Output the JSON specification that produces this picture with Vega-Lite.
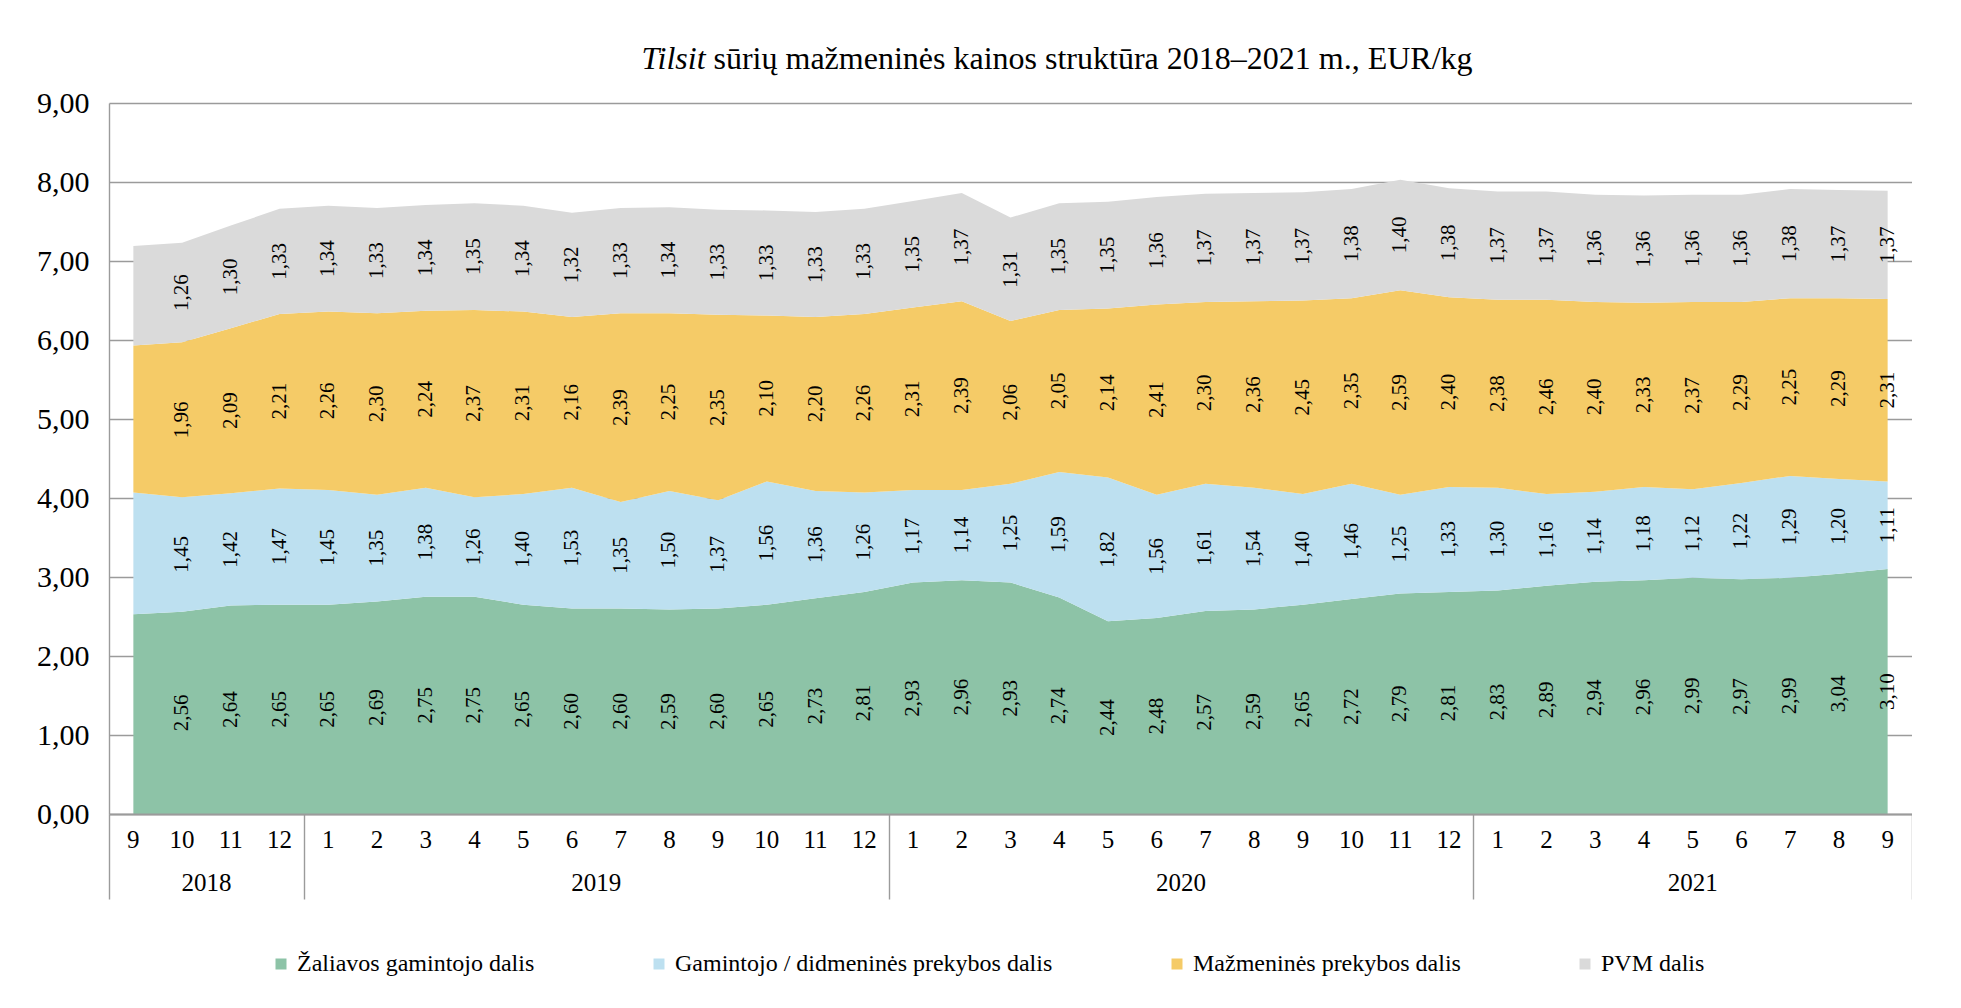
{
  "$schema": "https://vega.github.io/schema/vega-lite/v6.json",
  "padding": {"left": 36, "top": 43, "right": 0, "bottom": 0},
  "background": "white",
  "bounds": "flush",
  "title": {
    "text": "sūrių mažmeninės kainos struktūra 2018–2021 m., EUR/kg",
    "anchor": "start",
    "dx": 677,
    "dy": 33,
    "font": "Liberation Serif",
    "fontSize": 32,
    "fontWeight": "normal",
    "color": "black",
    "offset": 0
  },
  "datasets": {
    "rows": [
      {"yr": "2018", "mo": 9, "i": 0, "g": 2.53, "b": 1.54, "r": 1.86, "p": 1.26},
      {"yr": "2018", "mo": 10, "i": 1, "g": 2.56, "b": 1.45, "r": 1.96, "p": 1.26},
      {"yr": "2018", "mo": 11, "i": 2, "g": 2.64, "b": 1.42, "r": 2.09, "p": 1.30},
      {"yr": "2018", "mo": 12, "i": 3, "g": 2.65, "b": 1.47, "r": 2.21, "p": 1.33},
      {"yr": "2019", "mo": 1, "i": 4, "g": 2.65, "b": 1.45, "r": 2.26, "p": 1.34},
      {"yr": "2019", "mo": 2, "i": 5, "g": 2.69, "b": 1.35, "r": 2.30, "p": 1.33},
      {"yr": "2019", "mo": 3, "i": 6, "g": 2.75, "b": 1.38, "r": 2.24, "p": 1.34},
      {"yr": "2019", "mo": 4, "i": 7, "g": 2.75, "b": 1.26, "r": 2.37, "p": 1.35},
      {"yr": "2019", "mo": 5, "i": 8, "g": 2.65, "b": 1.40, "r": 2.31, "p": 1.34},
      {"yr": "2019", "mo": 6, "i": 9, "g": 2.60, "b": 1.53, "r": 2.16, "p": 1.32},
      {"yr": "2019", "mo": 7, "i": 10, "g": 2.60, "b": 1.35, "r": 2.39, "p": 1.33},
      {"yr": "2019", "mo": 8, "i": 11, "g": 2.59, "b": 1.50, "r": 2.25, "p": 1.34},
      {"yr": "2019", "mo": 9, "i": 12, "g": 2.60, "b": 1.37, "r": 2.35, "p": 1.33},
      {"yr": "2019", "mo": 10, "i": 13, "g": 2.65, "b": 1.56, "r": 2.10, "p": 1.33},
      {"yr": "2019", "mo": 11, "i": 14, "g": 2.73, "b": 1.36, "r": 2.20, "p": 1.33},
      {"yr": "2019", "mo": 12, "i": 15, "g": 2.81, "b": 1.26, "r": 2.26, "p": 1.33},
      {"yr": "2020", "mo": 1, "i": 16, "g": 2.93, "b": 1.17, "r": 2.31, "p": 1.35},
      {"yr": "2020", "mo": 2, "i": 17, "g": 2.96, "b": 1.14, "r": 2.39, "p": 1.37},
      {"yr": "2020", "mo": 3, "i": 18, "g": 2.93, "b": 1.25, "r": 2.06, "p": 1.31},
      {"yr": "2020", "mo": 4, "i": 19, "g": 2.74, "b": 1.59, "r": 2.05, "p": 1.35},
      {"yr": "2020", "mo": 5, "i": 20, "g": 2.44, "b": 1.82, "r": 2.14, "p": 1.35},
      {"yr": "2020", "mo": 6, "i": 21, "g": 2.48, "b": 1.56, "r": 2.41, "p": 1.36},
      {"yr": "2020", "mo": 7, "i": 22, "g": 2.57, "b": 1.61, "r": 2.30, "p": 1.37},
      {"yr": "2020", "mo": 8, "i": 23, "g": 2.59, "b": 1.54, "r": 2.36, "p": 1.37},
      {"yr": "2020", "mo": 9, "i": 24, "g": 2.65, "b": 1.40, "r": 2.45, "p": 1.37},
      {"yr": "2020", "mo": 10, "i": 25, "g": 2.72, "b": 1.46, "r": 2.35, "p": 1.38},
      {"yr": "2020", "mo": 11, "i": 26, "g": 2.79, "b": 1.25, "r": 2.59, "p": 1.40},
      {"yr": "2020", "mo": 12, "i": 27, "g": 2.81, "b": 1.33, "r": 2.40, "p": 1.38},
      {"yr": "2021", "mo": 1, "i": 28, "g": 2.83, "b": 1.30, "r": 2.38, "p": 1.37},
      {"yr": "2021", "mo": 2, "i": 29, "g": 2.89, "b": 1.16, "r": 2.46, "p": 1.37},
      {"yr": "2021", "mo": 3, "i": 30, "g": 2.94, "b": 1.14, "r": 2.40, "p": 1.36},
      {"yr": "2021", "mo": 4, "i": 31, "g": 2.96, "b": 1.18, "r": 2.33, "p": 1.36},
      {"yr": "2021", "mo": 5, "i": 32, "g": 2.99, "b": 1.12, "r": 2.37, "p": 1.36},
      {"yr": "2021", "mo": 6, "i": 33, "g": 2.97, "b": 1.22, "r": 2.29, "p": 1.36},
      {"yr": "2021", "mo": 7, "i": 34, "g": 2.99, "b": 1.29, "r": 2.25, "p": 1.38},
      {"yr": "2021", "mo": 8, "i": 35, "g": 3.04, "b": 1.20, "r": 2.29, "p": 1.37},
      {"yr": "2021", "mo": 9, "i": 36, "g": 3.10, "b": 1.11, "r": 2.31, "p": 1.37}
    ],
    "series": [
      {"key": "g", "name": "Žaliavos gamintojo dalis", "k": 1},
      {"key": "b", "name": "Gamintojo / didmeninės prekybos dalis", "k": 2},
      {"key": "r", "name": "Mažmeninės prekybos dalis", "k": 3},
      {"key": "p", "name": "PVM dalis", "k": 4}
    ]
  },
  "spacing": 0,
  "vconcat": [
    {
      "width": 1803,
      "height": 711,
      "title": {
        "text": "Tilsit",
        "anchor": "start",
        "dx": 605,
        "font": "Liberation Serif",
        "fontSize": 32,
        "fontStyle": "italic",
        "fontWeight": "normal",
        "color": "black",
        "offset": 12
      },
      "data": {"name": "rows"},
      "transform": [
        {"fold": ["g", "b", "r", "p"], "as": ["key", "v"]},
        {"lookup": "key", "from": {"data": {"name": "series"}, "key": "key", "fields": ["name", "k"]}}
      ],
      "layer": [
        {
          "mark": {"type": "area", "opacity": 1, "line": false},
          "encoding": {
            "x": {
              "field": "i", "type": "quantitative",
              "scale": {"domain": [-0.5, 36.5], "nice": false, "zero": false},
              "axis": {"labels": false, "ticks": false, "grid": false, "domain": true, "domainColor": "#9b9b9b", "domainWidth": 2, "title": null, "zindex": 1}
            },
            "y": {
              "field": "v", "type": "quantitative", "stack": "zero",
              "scale": {"domain": [0, 9], "nice": false},
              "axis": {
                "values": [0, 1, 2, 3, 4, 5, 6, 7, 8, 9],
                "format": ".2f", "grid": true, "gridColor": "#9b9b9b", "gridWidth": 1.4,
                "ticks": false, "labelPadding": 20, "domain": true, "domainColor": "#9b9b9b", "domainWidth": 1.4,
                "title": null, "labelFont": "Liberation Serif", "labelFontSize": 30, "labelColor": "black"
              }
            },
            "color": {
              "field": "name", "type": "nominal",
              "scale": {
                "domain": ["Žaliavos gamintojo dalis", "Gamintojo / didmeninės prekybos dalis", "Mažmeninės prekybos dalis", "PVM dalis"],
                "range": ["#8dc3a7", "#bde0f0", "#f5cb67", "#dadada"]
              },
              "legend": {
                "orient": "none", "legendX": 160, "legendY": 849,
                "direction": "horizontal", "title": null,
                "symbolType": "square", "symbolSize": 121, "symbolStrokeWidth": 0,
                "labelFont": "Liberation Serif", "labelFontSize": 24, "labelColor": "black",
                "columnPadding": 112, "labelOffset": 4, "padding": 0, "labelLimit": 700
              }
            },
            "order": {"field": "k", "type": "quantitative"}
          }
        },
        {
          "transform": [{"filter": "datum.i > 0"}],
          "mark": {"type": "text", "angle": 270, "align": "center", "baseline": "middle", "font": "Liberation Serif", "fontSize": 21, "color": "black"},
          "encoding": {
            "x": {"field": "i", "type": "quantitative"},
            "y": {"field": "v", "type": "quantitative", "stack": "zero", "bandPosition": 0.5},
            "detail": {"field": "name"},
            "order": {"field": "k", "type": "quantitative"},
            "text": {"field": "v", "type": "quantitative", "format": ".2f"}
          }
        }
      ]
    },
    {
      "width": 1803,
      "height": 85,
      "data": {"name": "rows"},
      "layer": [
        {
          "mark": {"type": "text", "align": "center", "baseline": "middle", "dy": 5, "font": "Liberation Serif", "fontSize": 25, "color": "black"},
          "encoding": {
            "x": {
              "field": "i", "type": "quantitative",
              "scale": {"domain": [-0.5, 36.5], "nice": false, "zero": false},
              "axis": {"values": [-0.5, 3.5, 15.5, 27.5, 36.5], "grid": true, "gridColor": "#9b9b9b", "gridWidth": 1.4, "labels": false, "ticks": false, "domain": false, "title": null}
            },
            "y": {"datum": "m", "type": "nominal", "scale": {"domain": ["m", "y"]}, "axis": null},
            "text": {"field": "mo", "type": "nominal"}
          }
        },
        {
          "transform": [{"aggregate": [{"op": "mean", "field": "i", "as": "ci"}], "groupby": ["yr"]}],
          "mark": {"type": "text", "align": "center", "baseline": "middle", "dy": 5, "font": "Liberation Serif", "fontSize": 25, "color": "black"},
          "encoding": {
            "x": {"field": "ci", "type": "quantitative"},
            "y": {"datum": "y", "type": "nominal"},
            "text": {"field": "yr", "type": "nominal"}
          }
        }
      ]
    }
  ],
  "config": {
    "locale": {"number": {"decimal": ",", "thousands": " ", "grouping": [3], "currency": ["", " €"]}},
    "view": {"stroke": null},
    "font": "Liberation Serif"
  }
}
